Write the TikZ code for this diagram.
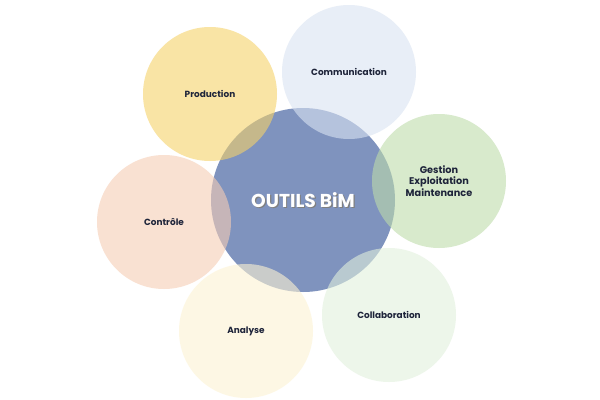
\documentclass[tikz,border=0pt]{standalone}
\usepackage{fontspec}
\setmainfont{Poppins}
\definecolor{centerblue}{RGB}{127,147,190}
\definecolor{prodc}{RGB}{245,210,105}
\definecolor{commc}{RGB}{218,227,242}
\definecolor{gestc}{RGB}{190,220,170}
\definecolor{contc}{RGB}{246,205,180}
\definecolor{analc}{RGB}{253,243,210}
\definecolor{collc}{RGB}{225,240,220}
\definecolor{txtc}{RGB}{30,36,58}
\begin{document}
\begin{tikzpicture}[x=0.75pt,y=-0.75pt,
  sat/.style={circle,inner sep=0pt,minimum size=100.5pt,fill opacity=0.6,text opacity=1,
    font=\bfseries\fontsize{6.7}{8.6}\selectfont,text=txtc,align=center},
  hub/.style={circle,inner sep=0pt,minimum size=138pt,fill=centerblue},
  hubfont/.style={font=\bfseries\fontsize{14}{17}\selectfont}]
\useasboundingbox (0,0) rectangle (600,400);
\fill[white] (0,0) rectangle (600,400);
\node[hub] (hub) at (303,200) {};
\node[sat,fill=prodc] (prod) at (210,94) {Production};
\node[sat,fill=commc] (comm) at (349,72) {Communication};
\node[sat,fill=gestc,font=\bfseries\fontsize{7.3}{8.8}\selectfont] (gest) at (439,181) {Gestion\\Exploitation\\Maintenance};
\node[sat,fill=contc] (cont) at (164,222) {Contrôle};
\node[sat,fill=analc] (anal) at (246,331) {Analyse};
\node[sat,fill=collc] (coll) at (389,315) {Collaboration};
\node[hubfont,text=black!50] (hubshadow) at (304.2,201.2) {OUTILS BiM};
\node[hubfont,text=white] (hubtext) at (303,200) {OUTILS BiM};
\end{tikzpicture}
\end{document}
